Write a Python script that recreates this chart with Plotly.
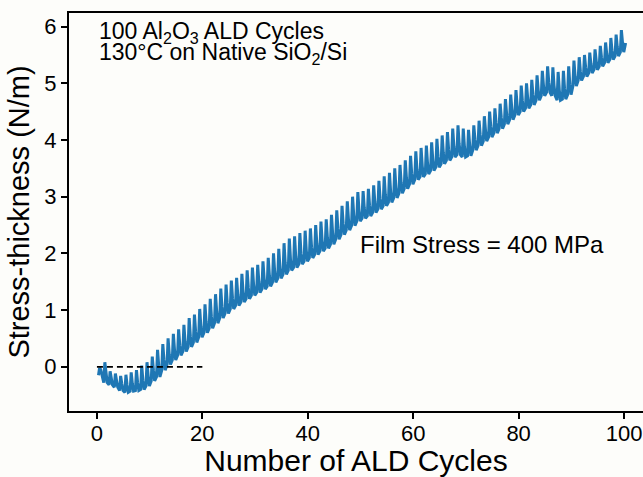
import plotly.graph_objects as go

# Stress-thickness per ALD cycle (N/m): minimum, maximum and the level
# the trace settles to after each precursor spike
cycle_number = list(range(100))
cycle_trough = [
    -0.15, -0.28, -0.32, -0.36, -0.42, -0.45, -0.43, -0.42, -0.40, -0.34,
    -0.25, -0.18, -0.06, 0.04, 0.12, 0.20, 0.27, 0.35, 0.43, 0.52,
    0.60, 0.68, 0.77, 0.86, 0.94, 1.02, 1.08, 1.14, 1.20, 1.26,
    1.31, 1.37, 1.42, 1.49, 1.56, 1.63, 1.70, 1.75, 1.81, 1.86,
    1.92, 1.98, 2.04, 2.09, 2.16, 2.25, 2.33, 2.41, 2.49, 2.57,
    2.62, 2.66, 2.72, 2.78, 2.84, 2.90, 2.98, 3.06, 3.14, 3.22,
    3.30, 3.35, 3.40, 3.46, 3.52, 3.58, 3.64, 3.70, 3.74, 3.70,
    3.72, 3.82, 3.90, 3.98, 4.05, 4.12, 4.20, 4.28, 4.36, 4.44,
    4.50, 4.56, 4.62, 4.70, 4.78, 4.84, 4.78, 4.70, 4.72, 4.80,
    4.95, 5.05, 5.12, 5.18, 5.24, 5.30, 5.36, 5.42, 5.48, 5.55,
]
cycle_settle = [
    -0.05, -0.12, -0.20, -0.24, -0.30, -0.32, -0.30, -0.28, -0.24, -0.16,
    -0.06, 0.02, 0.12, 0.22, 0.30, 0.38, 0.45, 0.54, 0.62, 0.71,
    0.79, 0.88, 0.97, 1.06, 1.13, 1.21, 1.27, 1.33, 1.39, 1.45,
    1.50, 1.56, 1.61, 1.68, 1.75, 1.83, 1.90, 1.94, 2.00, 2.05,
    2.11, 2.17, 2.23, 2.28, 2.35, 2.44, 2.52, 2.60, 2.68, 2.76,
    2.80, 2.85, 2.91, 2.97, 3.03, 3.09, 3.17, 3.25, 3.33, 3.41,
    3.48, 3.54, 3.59, 3.65, 3.71, 3.77, 3.83, 3.89, 3.93, 3.89,
    3.91, 4.01, 4.09, 4.17, 4.24, 4.31, 4.39, 4.47, 4.55, 4.62,
    4.69, 4.74, 4.80, 4.88, 4.96, 5.02, 4.96, 4.88, 4.90, 4.98,
    5.12, 5.21, 5.28, 5.34, 5.40, 5.46, 5.52, 5.58, 5.64, 5.71,
]
cycle_peak = [
    -0.02, 0.08, -0.08, -0.12, -0.16, -0.14, -0.10, -0.06, 0.02, 0.08,
    0.18, 0.30, 0.40, 0.50, 0.58, 0.66, 0.74, 0.86, 0.92, 1.02,
    1.10, 1.20, 1.28, 1.38, 1.45, 1.52, 1.57, 1.64, 1.70, 1.75,
    1.80, 1.86, 1.92, 2.00, 2.08, 2.18, 2.26, 2.30, 2.36, 2.40,
    2.44, 2.50, 2.56, 2.60, 2.68, 2.76, 2.84, 2.92, 3.00, 3.08,
    3.10, 3.14, 3.20, 3.28, 3.36, 3.42, 3.50, 3.56, 3.64, 3.72,
    3.80, 3.86, 3.90, 3.96, 4.02, 4.08, 4.14, 4.20, 4.26, 4.20,
    4.18, 4.26, 4.34, 4.42, 4.50, 4.56, 4.64, 4.72, 4.80, 4.88,
    4.96, 5.00, 5.06, 5.14, 5.22, 5.30, 5.28, 5.20, 5.22, 5.30,
    5.40, 5.46, 5.50, 5.54, 5.60, 5.66, 5.72, 5.80, 5.86, 5.94,
]

# Zero reference line over the first cycles
ref_x = [0, 20]
ref_y = [0, 0]

x_ticks = [0, 20, 40, 60, 80, 100]
y_ticks = [0, 1, 2, 3, 4, 5, 6]

# Each cycle: start at its minimum, spike to its maximum, drop to the
# settled level, then relax back toward the next cycle's minimum
trace_x, trace_y = [], []
for n, lo, mid, hi in zip(cycle_number, cycle_trough, cycle_settle, cycle_peak):
    trace_x += [n + 0.3, n + 0.5, n + 0.72, n + 0.95]
    trace_y += [lo, hi, mid, lo]
trace_x.append(cycle_number[-1] + 1.3)
trace_y.append(cycle_settle[-1])

FONT = "Liberation Sans, Arial, sans-serif"
BG = "#fdfdfa"

fig = go.Figure()
fig.add_trace(go.Scatter(
    x=trace_x, y=trace_y, mode="lines",
    line=dict(color="#1f77b4", width=3),
    showlegend=False, hoverinfo="skip",
))
fig.add_trace(go.Scatter(
    x=ref_x, y=ref_y, mode="lines",
    line=dict(color="black", width=1.8, dash="6px,4px"),
    showlegend=False, hoverinfo="skip",
))

fig.add_annotation(
    x=0, y=5.89, xref="x", yref="y", xanchor="left", yanchor="middle",
    text="100 Al<sub>2</sub>O<sub>3</sub> ALD Cycles", showarrow=False,
    font=dict(family=FONT, size=23, color="black"),
)
fig.add_annotation(
    x=0, y=5.53, xref="x", yref="y", xanchor="left", yanchor="middle",
    text="130°C on Native SiO<sub>2</sub>/Si", showarrow=False,
    font=dict(family=FONT, size=23, color="black"),
)
fig.add_annotation(
    x=73.1, y=2.15, xref="x", yref="y", xanchor="center", yanchor="middle",
    text="Film Stress = 400 MPa", showarrow=False,
    font=dict(family=FONT, size=24, color="black"),
)

fig.update_layout(
    width=643, height=477,
    margin=dict(l=69, r=0, t=13, b=66),
    paper_bgcolor=BG, plot_bgcolor=BG,
    font=dict(family=FONT, color="black"),
)
fig.update_xaxes(
    range=[-5.3, 103.6], tickvals=x_ticks, ticks="outside", ticklen=6,
    tickwidth=1.5, tickcolor="black", showline=True, linecolor="black",
    linewidth=2, mirror=True, showgrid=False, zeroline=False,
    tickfont=dict(size=22, family=FONT), ticklabelstandoff=-4,
    title=dict(text="Number of ALD Cycles", font=dict(size=30, family=FONT),
               standoff=4),
)
fig.update_yaxes(
    range=[-0.78, 6.24], tickvals=y_ticks, ticks="outside", ticklen=6,
    tickwidth=1.5, tickcolor="black", showline=True, linecolor="black",
    linewidth=2, mirror=False, showgrid=False, zeroline=False,
    tickfont=dict(size=22, family=FONT),
    title=dict(text="Stress-thickness (N/m)", font=dict(size=29, family=FONT),
               standoff=6),
)

fig.write_html("out.html")
